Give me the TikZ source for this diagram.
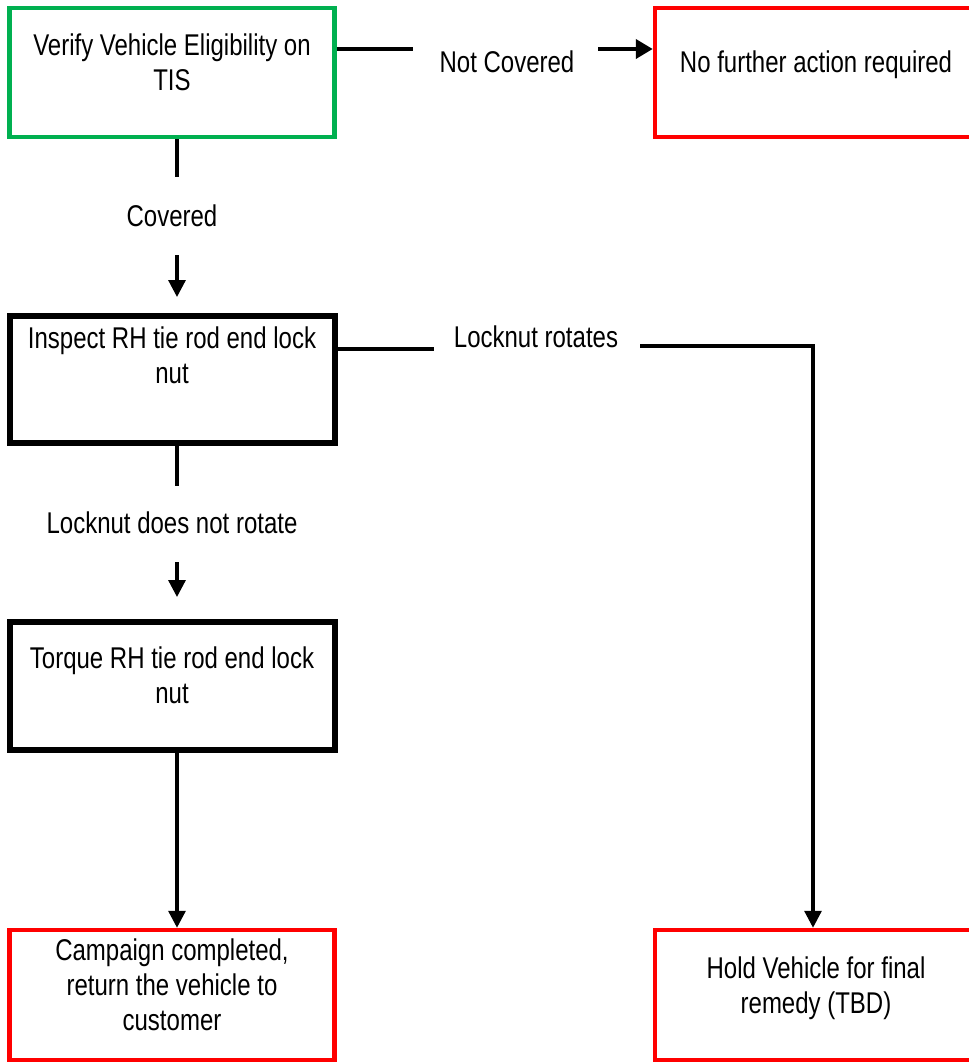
\documentclass[tikz,border=0pt]{standalone}
\usepackage{fontspec}
\setmainfont[FakeStretch=0.8]{Liberation Sans}
\usetikzlibrary{arrows.meta}
\definecolor{okgreen}{HTML}{00B050}
\definecolor{okred}{HTML}{FF0000}
\newcommand\lstrut{\rule[-12.5pt]{0pt}{35pt}}
\begin{document}
\begin{tikzpicture}[x=1pt,y=-1pt,
 box/.style={draw, rectangle, inner sep=0pt, minimum width=325pt},
 greenbox/.style={box, draw=okgreen, line width=4.5pt},
 redbox/.style={box, draw=okred, line width=4.5pt},
 blackbox/.style={box, draw=black, line width=6pt},
 txt/.style={inner sep=0pt, align=center, font=\fontsize{30}{35}\selectfont},
 conn/.style={line width=3.2pt},
 hconn/.style={line width=4pt},
 arr/.style={conn, -{Triangle[length=17pt,width=17pt]}},
 harr/.style={hconn, -{Triangle[length=17pt,width=19pt]}}]
\useasboundingbox (0,0) rectangle (969,1063);
\clip (0,0) rectangle (969,1063);
% boxes
\node[greenbox, minimum height=129pt] (v) at (172,72.5) {};
\node[redbox, minimum height=129pt] (nf) at (817.5,72.5) {};
\node[blackbox, minimum height=127pt] (ins) at (172,379.5) {};
\node[blackbox, minimum height=128pt] (tq) at (172,686) {};
\node[redbox, minimum height=130pt] (cc) at (172,995) {};
\node[redbox, minimum height=130pt] (hold) at (817.5,995) {};
% texts
\node[txt] (tv) at (172,67.5) {\lstrut Verify Vehicle Eligibility on\\\lstrut TIS};
\node[txt] (tnf) at (816,67) {\lstrut No further action required};
\node[txt] (tins) at (172,360.5) {\lstrut Inspect RH tie rod end lock\\\lstrut nut};
\node[txt] (ttq) at (172,680.5) {\lstrut Torque RH tie rod end lock\\\lstrut nut};
\node[txt] (tcc) at (172,990) {\lstrut Campaign completed,\\\lstrut return the vehicle to\\\lstrut customer};
\node[txt] (thold) at (816,990.5) {\lstrut Hold Vehicle for final\\\lstrut remedy (TBD)};
% labels
\node[txt] (lnc) at (507,67) {\lstrut Not Covered};
\node[txt] (lc) at (172,221) {\lstrut Covered};
\node[txt] (lr) at (536,342) {\lstrut Locknut rotates};
\node[txt] (lnr) at (172,528) {\lstrut Locknut does not rotate};
% connector break points
\coordinate (a1) at (413,49);
\coordinate (a2) at (598,49);
\coordinate (b1) at (177,177);
\coordinate (b2) at (177,255);
\coordinate (b3) at (177,297);
\coordinate (d1) at (177,486);
\coordinate (d2) at (177,562);
\coordinate (d3) at (177,597);
\coordinate (e1) at (434,349);
\coordinate (e2) at (640,346);
\coordinate (e3) at (813,346);
% connectors
\draw[hconn] (v.east |- a1) -- (a1);
\draw[harr] (a2) -- (nf.west |- a2);
\draw[conn] (v.south -| b1) -- (b1);
\draw[arr] (b2) -- (b3);
\draw[conn] (ins.south -| d1) -- (d1);
\draw[arr] (d2) -- (d3);
\draw[hconn] (ins.east |- e1) -- (e1);
\draw[arr] (e2) -- (e3) -- (hold.north -| e3);
\draw[arr] (tq.south -| b1) -- (cc.north -| b1);
\end{tikzpicture}
\end{document}
